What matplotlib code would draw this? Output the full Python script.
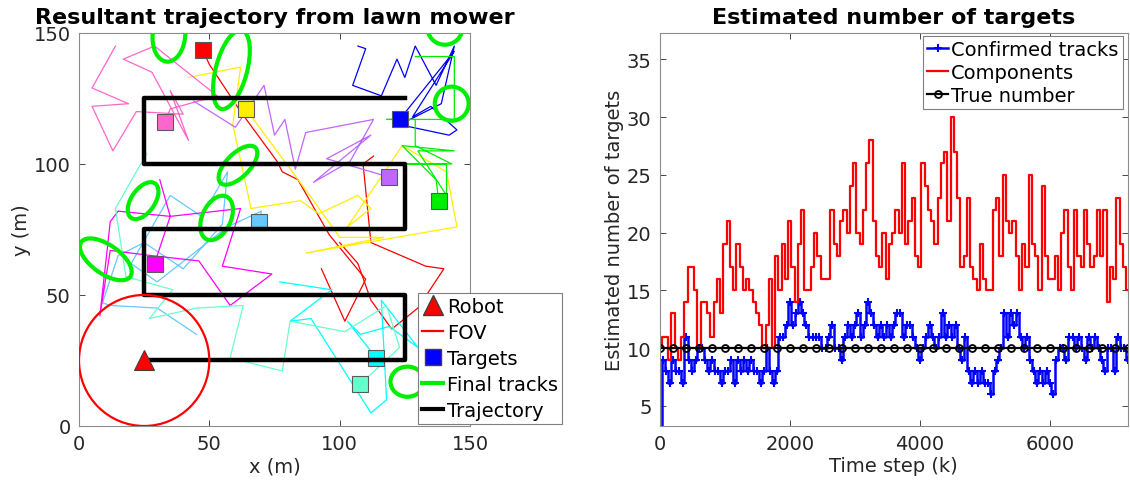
import numpy as np
import matplotlib
matplotlib.use("Agg")
import matplotlib.pyplot as plt
from matplotlib.patches import Ellipse, Circle
from matplotlib.lines import Line2D

# ---------------- left panel data (metres) ----------------
# lawn mower path of the robot
traj_x = [25, 125, 125, 25, 25, 125, 125, 25, 25, 125]
traj_y = [25, 25, 50, 50, 75, 75, 100, 100, 125, 125]
robot_xy = (25, 25)
fov_radius = 25

# final target positions and their colours
target_x = [47.5, 64, 33, 123, 119, 138, 69, 29, 114, 108]
target_y = [143.5, 121, 116, 117, 95, 86, 78, 62, 26, 16]
target_col = ['#ff0000', '#ffee00', '#ff66cc', '#0000ff', '#bf66ff',
              '#00ee00', '#66c8ff', '#ff00ff', '#00ffff', '#66ffcc']

# target paths (same order as the targets)
red_x = [93, 102, 110, 96, 84, 78, 76, 62, 50, 47.5]
red_y = [60, 40, 56, 73, 94, 97, 101, 120, 138, 143.5]
red2_x = [100, 107, 112, 120, 130, 140, 133, 112, 109, 113]
red2_y = [70, 62, 48, 37, 45, 60, 61, 70, 100, 103]
yellow_x = [42, 62, 59, 66, 85, 92, 107, 112, 103, 124, 141, 145, 87, 117, 100, 90, 64]
yellow_y = [133, 137, 115, 83, 86, 81, 88, 83, 76, 107, 97, 76, 66, 72, 72, 86, 121]
pink_x = [14, 5, 19, 5, 13, 22, 40, 35, 42, 28, 17, 29, 53, 35, 33]
pink_y = [145, 129, 123, 122, 105, 120, 119, 128, 109, 135, 140, 145, 126, 121, 116]
blue_x = [107, 110, 105, 116, 122, 125, 129, 137, 144, 139, 123, 142, 145, 135, 128, 144, 123]
blue_y = [145, 144, 130, 126, 140, 133, 145, 130, 145, 123, 115, 111, 113, 122, 118, 143, 117]
purple_x = [44, 60, 71, 75, 79, 83, 87, 113, 104, 90, 112, 95, 119]
purple_y = [124, 114, 130, 111, 117, 98, 112, 117, 101, 93, 111, 102, 95]
green_x = [129, 144, 144, 118, 129, 129, 143, 124, 141, 141, 130, 144, 124, 137, 138]
green_y = [141, 141, 117, 117, 117, 107, 100, 100, 100, 88, 105, 105, 107, 94, 86]
lblue_x = [45, 30, 12, 9, 15, 25, 40, 55, 57, 47, 35, 20, 30, 57, 70, 69]
lblue_y = [35, 45, 46, 47, 65, 70, 60, 77, 97, 80, 88, 62, 55, 76, 82, 78]
magenta_x = [31, 35, 15, 12, 8, 12, 28, 46, 58, 74, 55, 62, 35, 29]
magenta_y = [94, 80, 82, 78, 42, 67, 65, 63, 46, 58, 61, 83, 80, 62]
cyan_x = [77, 97, 81, 89, 112, 118, 116, 130, 119, 108, 103, 114]
cyan_y = [55, 52, 40, 41, 5, 10, 48, 30, 38, 35, 40, 26]
aqua_x = [26, 14, 18, 36, 27, 45, 63, 58, 78, 81, 102, 118, 123, 108]
aqua_y = [104, 83, 57, 52, 41, 45, 46, 26, 21, 40, 36, 46, 30, 16]

# final track ellipses: centre x, centre y, width, height, angle
ell_cx = [34.5, 58.5, 61, 24.6, 52.8, 10.3, 140.4, 143, 126]
ell_cy = [149, 136, 99.5, 86, 79.4, 63.6, 152, 123, 16.9]
ell_w = [12.5, 12, 9, 9, 11, 23, 13.4, 13, 13]
ell_h = [20, 31, 19, 16, 18, 11, 13, 13, 11.5]
ell_ang = [-5, -15, -45, -35, -25, -35, 0, 0, 0]

# ---------------- right panel data ----------------
step = 50
components = [10, 11, 11, 9, 13, 10, 9, 11, 14, 17, 17, 15, 10, 14, 14, 13, 11, 14,
              16, 13, 19, 21, 17, 15, 19, 17, 15, 16, 15, 14, 13, 12, 10, 12, 16, 10,
              18, 15, 19, 16, 21, 17, 14, 19, 22, 15, 15, 17, 20, 18, 16, 16, 16, 22,
              19, 18, 21, 22, 20, 24, 26, 20, 19, 22, 26, 28, 21, 18, 17, 20, 16, 19,
              20, 22, 20, 26, 19, 21, 23, 18, 17, 26, 24, 22, 21, 19, 23, 26, 27, 21,
              30, 27, 23, 17, 18, 23, 17, 16, 15, 19, 16, 15, 15, 22, 23, 18, 25, 21,
              20, 21, 18, 15, 19, 17, 25, 19, 18, 15, 24, 18, 16, 16, 18, 15, 20, 22,
              17, 15, 22, 18, 17, 22, 19, 17, 18, 22, 18, 22, 14, 17, 16, 23, 19, 17, 15]
confirmed = [3, 9, 8, 7, 9, 8, 8, 7, 11, 9, 8, 9, 10, 10, 9, 8, 9, 8, 8, 7, 8, 8, 9,
             7, 9, 8, 9, 8, 9, 8, 8, 7, 8, 10, 8, 7, 8, 11, 11, 12, 14, 12, 13, 14, 13,
             12, 11, 11, 11, 11, 10, 10, 11, 12, 10, 10, 9, 11, 12, 11, 12, 13, 11, 12,
             14, 13, 12, 11, 12, 11, 12, 11, 12, 13, 13, 11, 12, 12, 11, 10, 9, 10, 11,
             12, 11, 10, 11, 13, 11, 12, 11, 12, 10, 9, 11, 8, 7, 8, 7, 8, 7, 7, 6, 8,
             9, 10, 13, 11, 13, 12, 13, 11, 10, 11, 9, 8, 7, 8, 7, 8, 7, 6, 9, 10, 10,
             9, 11, 11, 10, 11, 10, 9, 11, 10, 11, 10, 9, 8, 10, 10, 8, 11, 10, 10, 9]
true_step = 200
true_number = [10] * 37

k_comp = np.arange(len(components)) * step
k_conf = np.arange(len(confirmed)) * step
k_true = np.arange(len(true_number)) * true_step

# ---------------- figure ----------------
plt.rcParams['font.family'] = 'DejaVu Sans'
plt.rcParams['font.size'] = 14
txt = '#262626'

fig = plt.figure(figsize=(11.3, 4.85), dpi=100)
ax1 = fig.add_axes([0.0699, 0.1196, 0.346, 0.8104])
ax2 = fig.add_axes([0.584, 0.1196, 0.414, 0.8104])

tracks = [(red_x, red_y, target_col[0]), (red2_x, red2_y, target_col[0]),
          (yellow_x, yellow_y, target_col[1]), (pink_x, pink_y, target_col[2]),
          (blue_x, blue_y, target_col[3]), (purple_x, purple_y, target_col[4]),
          (green_x, green_y, target_col[5]), (lblue_x, lblue_y, target_col[6]),
          (magenta_x, magenta_y, target_col[7]), (cyan_x, cyan_y, target_col[8]),
          (aqua_x, aqua_y, target_col[9])]
for tx, ty, c in tracks:
    ax1.plot(tx, ty, '-', color=c, lw=0.9, zorder=1)

for x, y, c in zip(target_x, target_y, target_col):
    ax1.plot(x, y, 's', ms=11, mfc=c, mec='#5a5a5a', mew=0.8, zorder=3)

for cx, cy, w, h, a in zip(ell_cx, ell_cy, ell_w, ell_h, ell_ang):
    ax1.add_patch(Ellipse((cx, cy), w, h, angle=a, fill=False,
                          ec='#00ee00', lw=3, zorder=4))

ax1.plot(traj_x, traj_y, '-', color='black', lw=3.2, zorder=5)
ax1.add_patch(Circle(robot_xy, fov_radius, fill=False, ec='red', lw=1.6, zorder=6))
ax1.plot(robot_xy[0], robot_xy[1], '^', ms=15, mfc='red', mec='#404040', mew=0.8, zorder=7)

ax1.set_xlim(0, 150)
ax1.set_ylim(0, 150)
ax1.set_xticks([0, 50, 100, 150])
ax1.set_yticks([0, 50, 100, 150])
ax1.set_xlabel('x (m)', color=txt, labelpad=2)
ax1.set_ylabel('y (m)', color=txt, labelpad=2)
ax1.set_title('Resultant trajectory from lawn mower', fontweight='bold', fontsize=16, pad=7)

h1 = [Line2D([], [], ls='none', marker='^', ms=15, mfc='red', mec='#404040'),
      Line2D([], [], color='red', lw=1.6),
      Line2D([], [], ls='none', marker='s', ms=12, mfc='blue', mec='#404040'),
      Line2D([], [], color='#00ee00', lw=3),
      Line2D([], [], color='black', lw=3)]
leg1 = ax1.legend(h1, ['Robot', 'FOV', 'Targets', 'Final tracks', 'Trajectory'],
                  loc='lower left', bbox_to_anchor=(0.867, 0.005), fontsize=14,
                  handlelength=1.1, handletextpad=0.2, labelspacing=0.36,
                  borderpad=0.2, borderaxespad=0, fancybox=False, framealpha=1,
                  edgecolor='#7f7f7f')
leg1.get_frame().set_linewidth(0.8)
leg1.set_zorder(20)

# right panel
ax2.plot(k_conf, confirmed, '-', color='blue', lw=1.8, marker='+', ms=6, mew=1.5,
         drawstyle='steps-mid', label='Confirmed tracks')
ax2.plot(k_comp, components, '-', color='red', lw=1.6, drawstyle='steps-mid',
         label='Components')
ax2.plot(k_true, true_number, '-', color='black', lw=1.6, marker='o', ms=5,
         mfc='none', mew=1.3, label='True number')
ax2.set_xlim(0, 7200)
ax2.set_ylim(3.25, 37.3)
ax2.set_xticks([0, 2000, 4000, 6000])
ax2.set_yticks([5, 10, 15, 20, 25, 30, 35])
ax2.set_xlabel('Time step (k)', color=txt, labelpad=2)
ax2.set_ylabel('Estimated number of targets', color=txt, labelpad=2)
ax2.set_title('Estimated number of targets', fontweight='bold', fontsize=16, pad=7)
leg2 = ax2.legend(loc='upper right', bbox_to_anchor=(0.989, 0.992), fontsize=14,
                  handlelength=1.1, handletextpad=0.15, labelspacing=0.2,
                  borderpad=0.2, borderaxespad=0, fancybox=False, framealpha=1,
                  edgecolor='#7f7f7f')
leg2.get_frame().set_linewidth(0.8)

for ax in (ax1, ax2):
    ax.tick_params(direction='in', top=True, right=True, length=4, width=0.6,
                   colors='#262626', labelsize=14, pad=6)
    for s in ax.spines.values():
        s.set_color('#8c8c8c')
        s.set_linewidth(0.8)

fig.savefig('out.png', dpi=100)
